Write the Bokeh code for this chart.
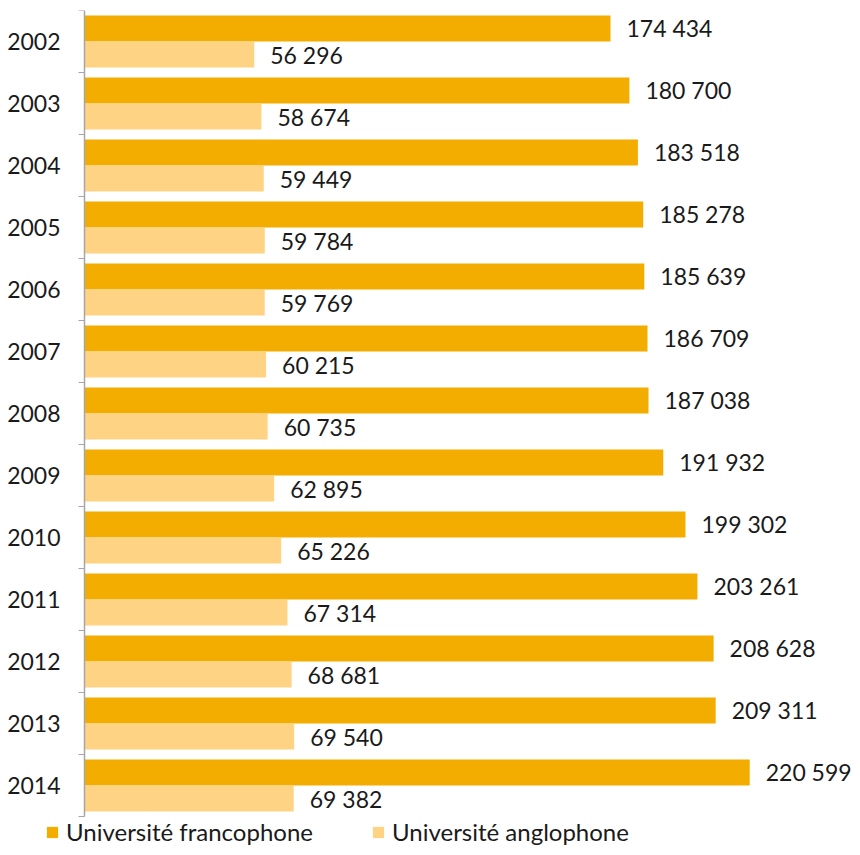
from bokeh.plotting import figure
from bokeh.models import ColumnDataSource, Range1d, FixedTicker, Legend, LegendItem
from bokeh.transform import dodge
from bokeh.core.properties import value
from bokeh.embed import file_html
from bokeh.resources import INLINE

years = ["2002", "2003", "2004", "2005", "2006", "2007", "2008",
         "2009", "2010", "2011", "2012", "2013", "2014"]
francophone = [174434, 180700, 183518, 185278, 185639, 186709, 187038,
               191932, 199302, 203261, 208628, 209311, 220599]
anglophone = [56296, 58674, 59449, 59784, 59769, 60215, 60735,
              62895, 65226, 67314, 68681, 69540, 69382]
series_names = ["Université francophone", "Université anglophone"]

DARK = "#F3AC00"
LIGHT = "#FED384"
FONT = "Lato"
FS = "23px"
TXT = "#1a1a1a"
W, H = 852, 847
TOP = 10         # px above the first band
LEFT = 84        # px from the left edge to the value axis
SCALE = 0.0030155  # px per student
BAND = 62.0      # px per year band

def fmt(v):
    return f"{v:,}".replace(",", " ")

n = len(years)
pos = [i + 0.5 for i in range(n)]
src = ColumnDataSource(dict(
    pos=pos,
    fr=francophone,
    an=anglophone,
    fr_lbl=[fmt(v) for v in francophone],
    an_lbl=[fmt(v) for v in anglophone],
))

p = figure(width=W, height=H, output_backend="svg", toolbar_location=None,
           x_range=Range1d(-LEFT / SCALE, (W - LEFT - 1) / SCALE),
           y_range=Range1d((H - TOP) / BAND, 0))
p.min_border_left = 0
p.min_border_right = 1
p.min_border_top = TOP
p.min_border_bottom = 0
p.outline_line_color = None
p.xgrid.visible = False
p.ygrid.visible = False
p.xaxis.visible = False

bh = 0.42
r1 = p.hbar(y=dodge("pos", -0.21), right="fr", left=0, height=bh, source=src,
            fill_color=DARK, line_color=None)
r2 = p.hbar(y=dodge("pos", 0.21), right="an", left=0, height=bh, source=src,
            fill_color=LIGHT, line_color=None)

p.text(x="fr", y=dodge("pos", -0.21), text="fr_lbl", source=src, x_offset=16,
       text_font=value(FONT), text_font_size=FS, text_baseline="middle",
       text_color=TXT)
p.text(x="an", y=dodge("pos", 0.21), text="an_lbl", source=src, x_offset=16,
       text_font=value(FONT), text_font_size=FS, text_baseline="middle",
       text_color=TXT)

ax = p.yaxis[0]
ax.fixed_location = 0
ax.bounds = (0, n)
ax.ticker = FixedTicker(ticks=pos, minor_ticks=list(range(n + 1)))
ax.major_label_overrides = {pv: y for pv, y in zip(pos, years)}
ax.major_tick_out = 0
ax.major_tick_in = 0
ax.minor_tick_out = 6
ax.minor_tick_in = 0
ax.minor_tick_line_color = "#A6A6A6"
ax.axis_line_color = "#A6A6A6"
ax.axis_line_width = 1.5
ax.major_label_standoff = 18
ax.major_label_text_font = FONT
ax.major_label_text_font_size = FS
ax.major_label_text_color = TXT

legend = Legend(items=[LegendItem(label=series_names[0], renderers=[r1]),
                       LegendItem(label=series_names[1], renderers=[r2])],
                orientation="horizontal", location=(45, 1),
                glyph_width=14, glyph_height=14, label_standoff=7, spacing=58,
                label_text_font=FONT, label_text_font_size="24px",
                label_text_color=TXT, border_line_color=None,
                background_fill_alpha=0, padding=0, margin=0)
p.add_layout(legend, "center")

open("out.html", "w").write(file_html(p, INLINE))
